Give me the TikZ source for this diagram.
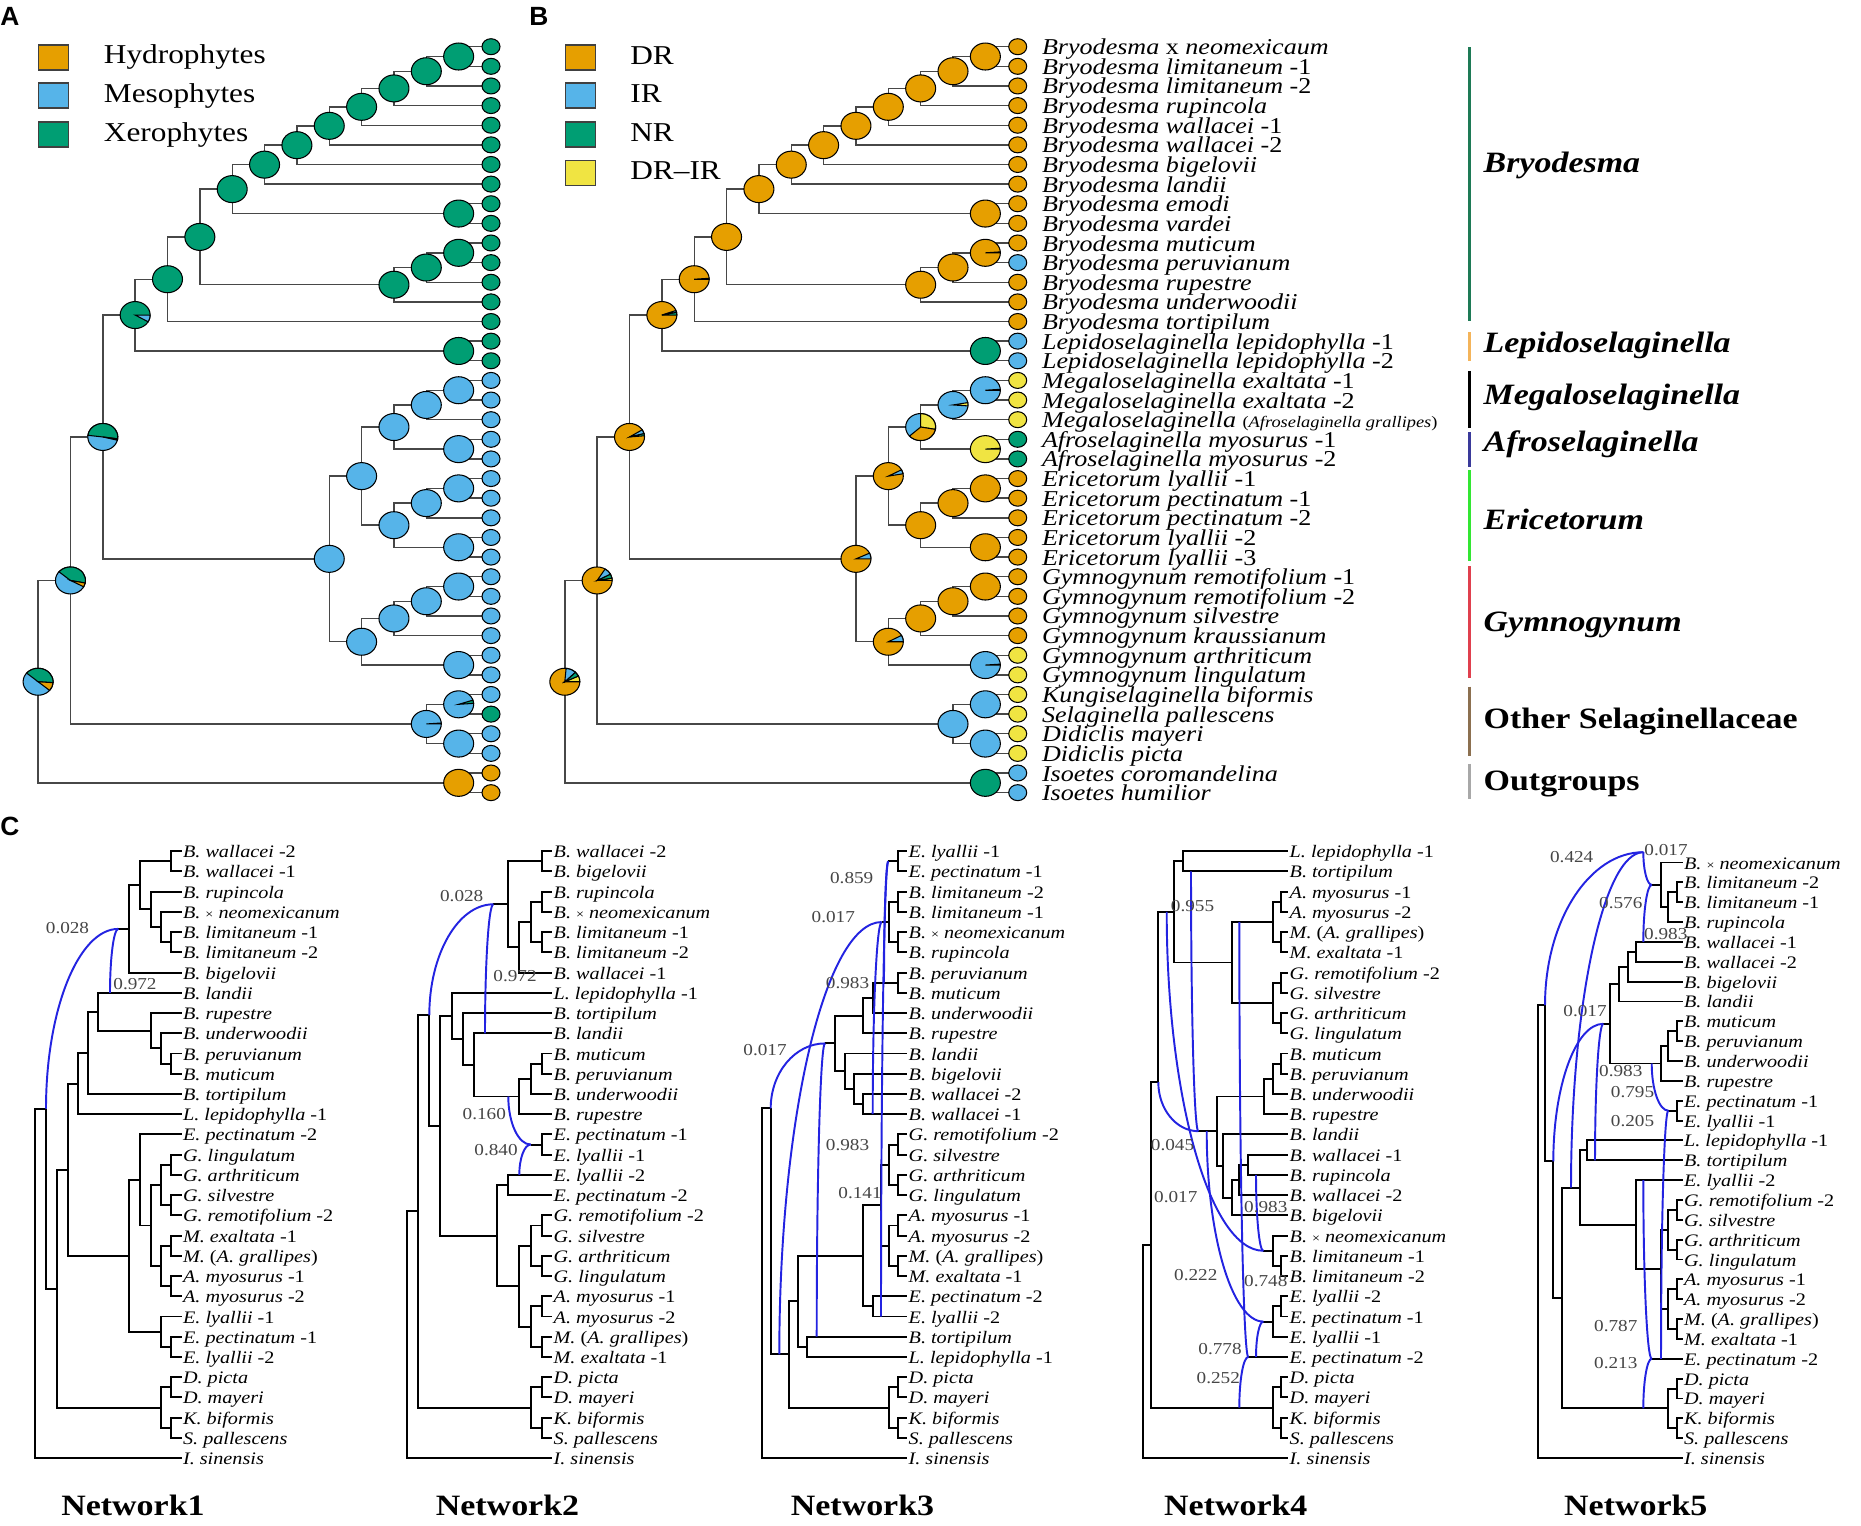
\documentclass[tikz,border=0pt]{standalone}
\usepackage{fontspec}
\setmainfont{Liberation Serif}[FakeStretch=1.15]
\newfontfamily\panelfont{Liberation Sans}
\usetikzlibrary{calc}
\usetikzlibrary{positioning}
\definecolor{statorange}{HTML}{E69F00}
\definecolor{statblue}{HTML}{56B4E9}
\definecolor{statgreen}{HTML}{009E73}
\definecolor{statyellow}{HTML}{F0E442}
\definecolor{hybblue}{RGB}{35,35,225}
\definecolor{numgray}{RGB}{70,70,70}
\definecolor{brygreen}{HTML}{1E7A56}
\definecolor{lepiorange}{HTML}{F4B45A}
\definecolor{afroblue}{HTML}{3A3A9A}
\definecolor{ericgreen}{HTML}{33E633}
\definecolor{gymnored}{HTML}{E0404E}
\definecolor{otherbrown}{HTML}{8C7050}
\definecolor{outgray}{HTML}{A8A8A8}

\tikzset{
  branch/.style={draw=black!72, line width=0.8pt},
  pieline/.style={draw=black, line width=0.6pt},
  netline/.style={draw=black, line width=1.1pt},
  hybline/.style={draw=hybblue, line width=1.1pt},
  taxon/.style={font=\fontsize{12.9}{13}\selectfont, inner sep=0pt, anchor=base west},
  nettip/.style={font=\fontsize{10}{11}\selectfont, inner sep=0pt, anchor=base west},
  netnum/.style={font=\fontsize{9.5}{10}\selectfont, text=numgray, inner sep=0pt},
  nettitle/.style={font=\fontsize{16.8}{18}\selectfont\bfseries, inner sep=0pt},
  legbox/.style={draw=black!75, line width=0.6pt, minimum width=0.6cm, minimum height=0.5cm, inner sep=0pt},
  legtext/.style={font=\fontsize{15.5}{16}\selectfont, inner sep=0pt, anchor=base west},
  cladename/.style={font=\fontsize{16.8}{18}\selectfont\bfseries, inner sep=0pt, anchor=base west},
  cladebar/.style={line width=1.5pt},
  panellabel/.style={font=\panelfont\fontsize{15}{16}\selectfont\bfseries, inner sep=0pt, anchor=base west},
}

% pie charts on the tree nodes
\newcommand\pienode[2]{\filldraw[fill=#2, pieline] (#1) ellipse[x radius=0.3cm, y radius=0.27cm];}
\newcommand\pieslice[4]{\filldraw[fill=#4, pieline] (#1) -- ++(#2:0.3cm and 0.27cm)
  arc[start angle=#2, end angle=#3, x radius=0.3cm, y radius=0.27cm] -- cycle;}
\newcommand\tipnode[2]{\filldraw[fill=#2, pieline] (#1) ellipse[x radius=0.18cm, y radius=0.16cm];}
% hybrid edge: quarter ellipse, first vertical then horizontal
\newcommand\hyb[2]{\draw[hybline] (#1) .. controls ($(#1)!0.55!(#1|-#2)$) and ($(#2)!0.55!(#1|-#2)$) .. (#2);}

% cladogram shared by panels A and B
\newcommand\drawclado{%
  \foreach \i in {0,...,38}
    \coordinate (t\i) at (\tipx,{46.7+19.63*\i});
  \foreach \n/\k/\r in {b1/1/0.5, b2/2/1.25, b3/3/2.125, b4/4/3.0625, b5/5/4.031, b6/6/5.016,
      b7/7/6.008, be/1/8.5, b8/8/7.254, bm1/1/10.5, bm2/2/11.25, bm3/3/12.125, b9/9/9.69,
      b10/10/11.845, lp/1/15.5, b11/11/13.67, m1/1/17.5, m2/2/18.25, af/1/20.5, ma/3/19.375,
      e1/1/22.5, e2/2/23.25, e3/1/25.5, e4/3/24.375, me/4/21.875, g1/1/27.5, g2/2/28.25,
      g3/3/29.125, g4/1/31.5, g5/4/30.3125, meg/5/26.09, n12/12/19.88, o1/1/33.5, o2/1/35.5,
      o3/2/34.5, n13/13/27.19, is/1/37.5, root/14/32.35}
    \coordinate (\n) at ({\tipx-32.35*\k},{46.7+19.63*\r});
  \foreach \pa/\ch in {b1/t0, b1/t1, b2/b1, b2/t2, b3/b2, b3/t3, b4/b3, b4/t4, b5/b4, b5/t5,
      b6/b5, b6/t6, b7/b6, b7/t7, be/t8, be/t9, b8/b7, b8/be, bm1/t10, bm1/t11, bm2/bm1,
      bm2/t12, bm3/bm2, bm3/t13, b9/b8, b9/bm3, b10/b9, b10/t14, lp/t15, lp/t16, b11/b10,
      b11/lp, m1/t17, m1/t18, m2/m1, m2/t19, af/t20, af/t21, ma/m2, ma/af, e1/t22, e1/t23,
      e2/e1, e2/t24, e3/t25, e3/t26, e4/e2, e4/e3, me/ma, me/e4, g1/t27, g1/t28, g2/g1,
      g2/t29, g3/g2, g3/t30, g4/t31, g4/t32, g5/g3, g5/g4, meg/me, meg/g5, n12/b11, n12/meg,
      o1/t33, o1/t34, o2/t35, o2/t36, o3/o1, o3/o2, n13/n12, n13/o3, is/t37, is/t38,
      root/n13, root/is}
    \draw[branch] (\pa) |- (\ch);
}

\begin{document}
\begin{tikzpicture}[x=0.02cm, y=-0.02cm]
\useasboundingbox (0,0) rectangle (1861,1525);
\fill[white] (0,0) rectangle (1861,1525);

%%%%%%%%%%%%%%%%%%%%%%%%%%%%%%%%%%%%%%%%%%%%%%%%%%%%%%%%%%%%%% Panel letters
\node[panellabel] (labA) at (0,25) {A};
\node[panellabel] (labB) at (529,25) {B};
\node[panellabel] (labC) at (0,835) {C};

%%%%%%%%%%%%%%%%%%%%%%%%%%%%%%%%%%%%%%%%%%%%%%%%%%%%%%%%%%%%%% A: habitat
\node[legbox, fill=statorange] (legA1) at (53.8,57.5) {};
\node[legbox, fill=statblue] (legA2) at (53.8,95.5) {};
\node[legbox, fill=statgreen] (legA3) at (53.8,134.5) {};
\node[legtext] (legA1t) at (103.6,63.5) {Hydrophytes};
\node[legtext] (legA2t) at (103.6,102) {Mesophytes};
\node[legtext] (legA3t) at (103.6,141) {Xerophytes};

\begin{scope}[name prefix=A-]
\def\tipx{491}
\drawclado
\foreach \n in {b1,b2,b3,b4,b5,b6,b7,be,b8,bm1,bm2,bm3,b9,b10,lp} {\pienode{\n}{statgreen}}
\foreach \n in {m1,m2,af,ma,e1,e2,e3,e4,me,g1,g2,g3,g4,g5,meg,o1,o2,o3} {\pienode{\n}{statblue}}
\pienode{is}{statorange}
\pienode{b11}{statgreen} \pieslice{b11}{-30}{0}{statblue}
\pienode{n12}{statblue} \pieslice{n12}{-8}{173}{statgreen} \pieslice{n12}{-14}{-8}{statorange}
\pienode{n13}{statblue} \pieslice{n13}{-11}{140}{statgreen} \pieslice{n13}{-28}{-11}{statorange}
\pienode{root}{statblue} \pieslice{root}{-4}{140}{statgreen} \pieslice{root}{-40}{-4}{statorange}
\pieslice{o1}{4}{18}{statgreen}
\pieslice{o3}{0}{4}{statgreen}
\foreach \i in {0,...,16,34} {\tipnode{t\i}{statgreen}}
\foreach \i in {17,...,33,35,36} {\tipnode{t\i}{statblue}}
\foreach \i in {37,38} {\tipnode{t\i}{statorange}}
\end{scope}

%%%%%%%%%%%%%%%%%%%%%%%%%%%%%%%%%%%%%%%%%%%%%%%%%%%%%%%%%%%%%% B: resurrection
\node[legbox, fill=statorange] (legB1) at (580.8,57.5) {};
\node[legbox, fill=statblue] (legB2) at (580.8,95.5) {};
\node[legbox, fill=statgreen] (legB3) at (580.8,134.5) {};
\node[legbox, fill=statyellow] (legB4) at (580.8,173) {};
\node[legtext] (legB1t) at (630,64) {DR};
\node[legtext] (legB2t) at (630,102.5) {IR};
\node[legtext] (legB3t) at (630,141) {NR};
\node[legtext] (legB4t) at (630,179.5) {DR--IR};

\begin{scope}[name prefix=B-]
\def\tipx{1017.7}
\drawclado
\foreach \n in {b1,b2,b3,b4,b5,b6,b7,be,b8,bm2,bm3,b9,e1,e2,e3,e4,g1,g2,g3} {\pienode{\n}{statorange}}
\foreach \n in {o1,o2,o3} {\pienode{\n}{statblue}}
\pienode{lp}{statgreen} \pienode{is}{statgreen}
\pienode{bm1}{statorange} \pieslice{bm1}{0}{4}{statblue}
\pienode{b10}{statorange} \pieslice{b10}{0}{4}{statgreen}
\pienode{b11}{statorange} \pieslice{b11}{0}{12}{statgreen} \pieslice{b11}{12}{20}{statblue}
\pienode{m1}{statblue} \pieslice{m1}{0}{4}{statyellow}
\pienode{m2}{statblue} \pieslice{m2}{-4}{10}{statyellow}
\pienode{af}{statyellow} \pieslice{af}{0}{4}{statgreen}
\pienode{ma}{statblue} \pieslice{ma}{-10}{90}{statyellow} \pieslice{ma}{222}{350}{statorange}
\pienode{me}{statorange} \pieslice{me}{10}{28}{statblue}
\pienode{g4}{statblue} \pieslice{g4}{0}{4}{statyellow}
\pienode{g5}{statorange} \pieslice{g5}{0}{28}{statblue}
\pienode{meg}{statorange} \pieslice{meg}{0}{25}{statblue}
\pienode{n12}{statorange} \pieslice{n12}{5}{15}{statgreen} \pieslice{n12}{15}{32}{statblue}
\pienode{n13}{statorange} \pieslice{n13}{0}{10}{statyellow} \pieslice{n13}{10}{28}{statgreen} \pieslice{n13}{28}{58}{statblue}
\pienode{root}{statorange} \pieslice{root}{0}{25}{statyellow} \pieslice{root}{25}{45}{statgreen} \pieslice{root}{45}{85}{statblue}
\foreach \i in {0,1,2,3,4,5,6,7,8,9,10,12,13,14,22,23,24,25,26,27,28,29,30} {\tipnode{t\i}{statorange}}
\foreach \i in {11,15,16,37,38} {\tipnode{t\i}{statblue}}
\foreach \i in {17,18,19,31,32,33,34,35,36} {\tipnode{t\i}{statyellow}}
\foreach \i in {20,21} {\tipnode{t\i}{statgreen}}
\foreach \s [count=\i from 0] in {
    {\textit{Bryodesma} x \textit{neomexicaum}}, {\textit{Bryodesma limitaneum} -1},
    {\textit{Bryodesma limitaneum} -2}, {\textit{Bryodesma rupincola}},
    {\textit{Bryodesma wallacei} -1}, {\textit{Bryodesma wallacei} -2},
    {\textit{Bryodesma bigelovii}}, {\textit{Bryodesma landii}}, {\textit{Bryodesma emodi}},
    {\textit{Bryodesma vardei}}, {\textit{Bryodesma muticum}}, {\textit{Bryodesma peruvianum}},
    {\textit{Bryodesma rupestre}}, {\textit{Bryodesma underwoodii}}, {\textit{Bryodesma tortipilum}},
    {\textit{Lepidoselaginella lepidophylla} -1}, {\textit{Lepidoselaginella lepidophylla} -2},
    {\textit{Megaloselaginella exaltata} -1}, {\textit{Megaloselaginella exaltata} -2},
    {\textit{Megaloselaginella} {\fontsize{9.1}{10}\selectfont(\textit{Afroselaginella grallipes})}},
    {\textit{Afroselaginella myosurus} -1}, {\textit{Afroselaginella myosurus} -2},
    {\textit{Ericetorum lyallii} -1}, {\textit{Ericetorum pectinatum} -1},
    {\textit{Ericetorum pectinatum} -2}, {\textit{Ericetorum lyallii} -2},
    {\textit{Ericetorum lyallii} -3}, {\textit{Gymnogynum remotifolium} -1},
    {\textit{Gymnogynum remotifolium} -2}, {\textit{Gymnogynum silvestre}},
    {\textit{Gymnogynum kraussianum}}, {\textit{Gymnogynum arthriticum}},
    {\textit{Gymnogynum lingulatum}}, {\textit{Kungiselaginella biformis}},
    {\textit{Selaginella pallescens}}, {\textit{Didiclis mayeri}}, {\textit{Didiclis picta}},
    {\textit{Isoetes coromandelina}}, {\textit{Isoetes humilior}}}
  {\node[taxon] (lb\i) at ($(t\i)+(24,8)$) {\s};}
\end{scope}

% clade bars
\draw[cladebar, brygreen] (1469.3,47.4) -- (1469.3,321);
\draw[cladebar, lepiorange] (1469.3,332) -- (1469.3,361);
\draw[cladebar, black] (1469.3,370.8) -- (1469.3,428);
\draw[cladebar, afroblue] (1469.3,432) -- (1469.3,466.8);
\draw[cladebar, ericgreen] (1469.3,470.3) -- (1469.3,561.3);
\draw[cladebar, gymnored] (1469.3,566.3) -- (1469.3,677.8);
\draw[cladebar, otherbrown] (1469.3,686.7) -- (1469.3,756.4);
\draw[cladebar, outgray] (1469.3,763.8) -- (1469.3,798.6);
\node[cladename] (cBry) at (1483.3,172) {\textit{Bryodesma}};
\node[cladename] (cLep) at (1483.3,352) {\textit{Lepidoselaginella}};
\node[cladename] (cMeg) at (1483.3,404.5) {\textit{Megaloselaginella}};
\node[cladename] (cAfr) at (1483.3,451) {\textit{Afroselaginella}};
\node[cladename] (cEri) at (1483.3,529) {\textit{Ericetorum}};
\node[cladename] (cGym) at (1483.3,631) {\textit{Gymnogynum}};
\node[cladename] (cOth) at (1483.3,728) {Other Selaginellaceae};
\node[cladename] (cOut) at (1483.3,790) {Outgroups};

%%%%%%%%%%%%%%%%%%%%%%%%%%%%%%%%%%%%%%%%%%%%%%%%%%%%%%%%%%%%%% C: Network1
\begin{scope}[name prefix=N1-]
\def\rowy{851.2}\def\rowh{20.23}\def\tipx{181.7}
\foreach \i in {0,...,30} \coordinate (t\i) at (\tipx,{\rowy+\rowh*\i});
\foreach \n/\x/\r in {a/171/0.5, b/171/4.5, c/161/3.75, d/151/2.875, e/140/1.6875,
    f/129.3/3.84, hy/118.3/3.84, h1/171/10.5, h2/161/9.75, h3/151/8.875, g/98.3/7.94,
    hp/110/7, i/87.7/9.97, j/77.7/11.49, gl/171/15.5, gs/171/17.5, gg/161/16.5,
    mm/171/19.5, aa/171/21.5, ma/161/20.5, gma/151/18.5, n/140/16.25, ee/171/24.5,
    ee2/161/23.75, o/129.3/20, k/67.7/15.75, dd/171/26.5, ks/171/28.5, ot/161/27.5,
    l/56.7/21.62, m/46/12.73, rt/35/21.36}
  \coordinate (\n) at (\x,{\rowy+\rowh*(\r)});
\foreach \pa/\ch in {a/t0, a/t1, b/t4, b/t5, c/t3, c/b, d/t2, d/c, e/a, e/d, f/e, f/t6,
    hy/f, h1/t10, h1/t11, h2/t9, h2/h1, h3/t8, h3/h2, g/t7, g/h3, i/g, i/t12, j/i, j/t13,
    gl/t15, gl/t16, gs/t17, gs/t18, gg/gl, gg/gs, mm/t19, mm/t20, aa/t21, aa/t22, ma/mm,
    ma/aa, gma/gg, gma/ma, n/t14, n/gma, ee/t24, ee/t25, ee2/t23, ee2/ee, o/n, o/ee2,
    k/j, k/o, dd/t26, dd/t27, ks/t28, ks/t29, ot/dd, ot/ks, l/k, l/ot, m/l, rt/m, rt/t30}
  \draw[netline] (\pa) |- (\ch);
\hyb{m}{hy}
\hyb{hp}{hy}
\foreach \s [count=\i from 0] in {{\textit{B. wallacei} -2}, {\textit{B. wallacei} -1},
    {\textit{B. rupincola}}, {\textit{B.} {\fontsize{7}{8}\selectfont×} \textit{neomexicanum}},
    {\textit{B. limitaneum} -1}, {\textit{B. limitaneum} -2}, {\textit{B. bigelovii}},
    {\textit{B. landii}}, {\textit{B. rupestre}}, {\textit{B. underwoodii}},
    {\textit{B. peruvianum}}, {\textit{B. muticum}}, {\textit{B. tortipilum}},
    {\textit{L. lepidophylla} -1}, {\textit{E. pectinatum} -2}, {\textit{G. lingulatum}},
    {\textit{G. arthriticum}}, {\textit{G. silvestre}}, {\textit{G. remotifolium} -2},
    {\textit{M. exaltata} -1}, {\textit{M.} (\textit{A. grallipes})}, {\textit{A. myosurus} -1},
    {\textit{A. myosurus} -2}, {\textit{E. lyallii} -1}, {\textit{E. pectinatum} -1},
    {\textit{E. lyallii} -2}, {\textit{D. picta}}, {\textit{D. mayeri}}, {\textit{K. biformis}},
    {\textit{S. pallescens}}, {\textit{I. sinensis}}}
  {\node[nettip] (l\i) at ($(t\i)+(1,6.5)$) {\s};}
\node[netnum] (w1) at (67.5,928) {0.028};
\node[netnum] (w2) at (135,984) {0.972};
\node[nettitle] (title) at (133,1505.5) {Network1};
\end{scope}

%%%%%%%%%%%%%%%%%%%%%%%%%%%%%%%%%%%%%%%%%%%%%%%%%%%%%%%%%%%%%% C: Network2
\begin{scope}[name prefix=N2-]
\def\rowy{851.2}\def\rowh{20.23}\def\tipx{552.3}
\foreach \i in {0,...,30} \coordinate (t\i) at (\tipx,{\rowy+\rowh*\i});
\foreach \n/\x/\r in {a/541.7/0.5, rn/541.7/2.5, rl/541.7/4.5, x422/530.7/3.5,
    x388/519.3/4.75, x355/508.3/2.625, hy/493.3/2.625, hp/485/9, mp/541.7/10.5,
    mu/530.7/11.25, mr/519.3/12.125, x253/474.3/10.56, x218/462.7/9.28, x185/451.7/8.14,
    ep/541.7/14.5, hy2/530.7/14.5, hq/508.3/12.125, hr/519.3/16, ee/508.3/16.5,
    gs/541.7/18.5, ga/541.7/20.5, gg/530.7/19.5, am/541.7/22.5, mx/541.7/24.5,
    ma/530.7/23.5, gma/519.3/21.5, egma/496.7/19, x150/440/13.57, x118/429.3/8.1,
    dd/541.7/26.5, ks/541.7/28.5, ot/530.7/27.5, x85/418.3/17.8, rt/406.7/23.9}
  \coordinate (\n) at (\x,{\rowy+\rowh*(\r)});
\foreach \pa/\ch in {a/t0, a/t1, rn/t2, rn/t3, rl/t4, rl/t5, x422/rn, x422/rl, x388/x422,
    x388/t6, x355/a, x355/x388, hy/x355, mp/t10, mp/t11, mu/mp, mu/t12, mr/mu, mr/t13,
    x253/t9, x253/mr, x218/t8, x218/x253, x185/t7, x185/x218, ep/t14, ep/t15, hy2/ep,
    ee/t16, ee/t17, gs/t18, gs/t19, ga/t20, ga/t21, gg/gs, gg/ga, am/t22, am/t23, mx/t24,
    mx/t25, ma/am, ma/mx, gma/gg, gma/ma, egma/ee, egma/gma, x150/x185, x150/egma,
    x118/x150, dd/t26, dd/t27, ks/t28, ks/t29, ot/dd, ot/ks, x85/x118, x85/ot, rt/x85, rt/t30}
  \draw[netline] (\pa) |- (\ch);
\hyb{x118}{hy}
\hyb{hp}{hy}
\hyb{hq}{hy2}
\hyb{hr}{hy2}
\foreach \s [count=\i from 0] in {{\textit{B. wallacei} -2}, {\textit{B. bigelovii}},
    {\textit{B. rupincola}}, {\textit{B.} {\fontsize{7}{8}\selectfont×} \textit{neomexicanum}},
    {\textit{B. limitaneum} -1}, {\textit{B. limitaneum} -2}, {\textit{B. wallacei} -1},
    {\textit{L. lepidophylla} -1}, {\textit{B. tortipilum}}, {\textit{B. landii}},
    {\textit{B. muticum}}, {\textit{B. peruvianum}}, {\textit{B. underwoodii}},
    {\textit{B. rupestre}}, {\textit{E. pectinatum} -1}, {\textit{E. lyallii} -1},
    {\textit{E. lyallii} -2}, {\textit{E. pectinatum} -2}, {\textit{G. remotifolium} -2},
    {\textit{G. silvestre}}, {\textit{G. arthriticum}}, {\textit{G. lingulatum}},
    {\textit{A. myosurus} -1}, {\textit{A. myosurus} -2}, {\textit{M.} (\textit{A. grallipes})},
    {\textit{M. exaltata} -1}, {\textit{D. picta}}, {\textit{D. mayeri}}, {\textit{K. biformis}},
    {\textit{S. pallescens}}, {\textit{I. sinensis}}}
  {\node[nettip] (l\i) at ($(t\i)+(1,6.5)$) {\s};}
\node[netnum] (w1) at (461.7,896.5) {0.028};
\node[netnum] (w2) at (515,975.7) {0.972};
\node[netnum] (w3) at (484.3,1113.8) {0.160};
\node[netnum] (w4) at (496,1150) {0.840};
\node[nettitle] (title) at (507.5,1505.5) {Network2};
\end{scope}

%%%%%%%%%%%%%%%%%%%%%%%%%%%%%%%%%%%%%%%%%%%%%%%%%%%%%%%%%%%%%% C: Network3
\begin{scope}[name prefix=N3-]
\def\rowy{851.2}\def\rowh{20.23}\def\tipx{907.3}
\foreach \i in {0,...,30} \coordinate (t\i) at (\tipx,{\rowy+\rowh*\i});
\foreach \n/\x/\r in {ea/898.3/0.5, h3/888.3/0.5, li/898.3/2.5, nr/898.3/4.5, ln/889.3/3.5,
    h2/881.7/3.5, pm/898.3/6.5, x428/872.7/7.25, x400/863.3/8.125, w/863.3/12.5,
    x372/854/11.75, x345/845/10.875, x315/835/9.5, h1/825/9.5, gr/898.3/14.5,
    ga/898.3/16.5, gg/889.3/15.5, am/898.3/18.5, mm/898.3/20.5, ma/889.3/19.5,
    gma/880.7/17.5, ee/872.7/22.5, egma/863.3/20, tl/807.3/24.5, x205/798.3/22.25,
    dd/898.3/26.5, ks/898.3/28.5, ot/889.3/27.5, x178/789.3/24.875, x148/779.3/24.875,
    x122/770.7/12.71, rt/761.7/21.36, p1/816.7/24, p2/872.7/13, p3/884/6.5, p4/881/23}
  \coordinate (\n) at (\x,{\rowy+\rowh*(\r)});
\foreach \pa/\ch in {ea/t0, ea/t1, h3/ea, li/t2, li/t3, nr/t4, nr/t5, ln/li, ln/nr, h2/ln,
    pm/t6, pm/t7, x428/pm, x428/t8, x400/x428, x400/t9, w/t12, w/t13, x372/t11, x372/w,
    x345/t10, x345/x372, x315/x400, x315/x345, h1/x315, gr/t14, gr/t15, ga/t16, ga/t17,
    gg/gr, gg/ga, am/t18, am/t19, mm/t20, mm/t21, ma/am, ma/mm, gma/gg, gma/ma, ee/t22,
    ee/t23, egma/gma, egma/ee, tl/t24, tl/t25, x205/egma, x205/tl, dd/t26, dd/t27,
    ks/t28, ks/t29, ot/dd, ot/ks, x178/x205, x178/ot, x122/x178, rt/x122, rt/t30}
  \draw[netline] (\pa) |- (\ch);
\hyb{x122}{h1}
\hyb{p1}{h1}
\hyb{x148}{h2}
\hyb{p2}{h2}
\hyb{p3}{h3}
\hyb{p4}{h3}
\foreach \s [count=\i from 0] in {{\textit{E. lyallii} -1}, {\textit{E. pectinatum} -1},
    {\textit{B. limitaneum} -2}, {\textit{B. limitaneum} -1},
    {\textit{B.} {\fontsize{7}{8}\selectfont×} \textit{neomexicanum}}, {\textit{B. rupincola}},
    {\textit{B. peruvianum}}, {\textit{B. muticum}}, {\textit{B. underwoodii}},
    {\textit{B. rupestre}}, {\textit{B. landii}}, {\textit{B. bigelovii}},
    {\textit{B. wallacei} -2}, {\textit{B. wallacei} -1}, {\textit{G. remotifolium} -2},
    {\textit{G. silvestre}}, {\textit{G. arthriticum}}, {\textit{G. lingulatum}},
    {\textit{A. myosurus} -1}, {\textit{A. myosurus} -2}, {\textit{M.} (\textit{A. grallipes})},
    {\textit{M. exaltata} -1}, {\textit{E. pectinatum} -2}, {\textit{E. lyallii} -2},
    {\textit{B. tortipilum}}, {\textit{L. lepidophylla} -1}, {\textit{D. picta}},
    {\textit{D. mayeri}}, {\textit{K. biformis}}, {\textit{S. pallescens}}, {\textit{I. sinensis}}}
  {\node[nettip] (l\i) at ($(t\i)+(1,6.5)$) {\s};}
\node[netnum] (w1) at (851.7,878.4) {0.859};
\node[netnum] (w2) at (833.3,916.9) {0.017};
\node[netnum] (w3) at (847.5,983.4) {0.983};
\node[netnum] (w4) at (765,1050.5) {0.017};
\node[netnum] (w5) at (847.5,1144.6) {0.983};
\node[netnum] (w6) at (860,1193) {0.141};
\node[nettitle] (title) at (862.5,1505.5) {Network3};
\end{scope}

%%%%%%%%%%%%%%%%%%%%%%%%%%%%%%%%%%%%%%%%%%%%%%%%%%%%%%%%%%%%%% C: Network4
\begin{scope}[name prefix=N4-]
\def\rowy{851.2}\def\rowh{20.23}\def\tipx{1288.3}
\foreach \i in {0,...,30} \coordinate (t\i) at (\tipx,{\rowy+\rowh*\i});
\foreach \n/\x/\r in {lt/1183.3/0.5, am/1281/2.5, mx/1281/4.5, ma/1272.7/3.5, gs/1281/6.5,
    ga/1281/8.5, gg/1272.7/7.5, gma/1231.7/5.5, x163/1174.3/3, mp/1281/10.5,
    mu/1272.7/11.25, mr/1264/12.125, w1/1248.3/15.5, w2/1239.3/16.25, w3/1231.7/17.125,
    x310/1223.3/15.56, x290/1216.7/13.84, h5/1198.3/13.84, lim/1281/20.5,
    neo/1272.7/19.75, h6/1263.3/19.75, e1/1281/22.5, e2/1272.7/23.25, h7/1263.3/23.25,
    h4/1248.3/25, dd/1281/26.5, ks/1281/28.5, ot/1272.7/27.5, x115/1158.3/11.42,
    x92/1150.7/19.46, rt/1142.7/24.73, q1/1191/1, q2/1166.7/3, q3/1256/16,
    q4/1206.7/13.84, q5/1256/25, q6/1239.3/3.5, q7/1239.3/27.5}
  \coordinate (\n) at (\x,{\rowy+\rowh*(\r)});
\foreach \pa/\ch in {lt/t0, lt/t1, am/t2, am/t3, mx/t4, mx/t5, ma/am, ma/mx, gs/t6, gs/t7,
    ga/t8, ga/t9, gg/gs, gg/ga, gma/ma, gma/gg, x163/lt, x163/gma, mp/t10, mp/t11, mu/mp,
    mu/t12, mr/mu, mr/t13, w1/t15, w1/t16, w2/w1, w2/t17, w3/w2, w3/t18, x310/t14,
    x310/w3, x290/mr, x290/x310, h5/x290, lim/t20, lim/t21, neo/t19, neo/lim, h6/neo,
    e1/t22, e1/t23, e2/e1, e2/t24, h7/e2, h4/t25, dd/t26, dd/t27, ks/t28, ks/t29, ot/dd,
    ot/ks, x115/x163, x92/x115, x92/ot, rt/x92, rt/t30}
  \draw[netline] (\pa) |- (\ch);
\hyb{q1}{h5}
\hyb{x115}{h5}
\hyb{q2}{h6}
\hyb{q3}{h6}
\hyb{q4}{h7}
\hyb{q5}{h7}
\hyb{q6}{h4}
\hyb{q7}{h4}
\foreach \s [count=\i from 0] in {{\textit{L. lepidophylla} -1}, {\textit{B. tortipilum}},
    {\textit{A. myosurus} -1}, {\textit{A. myosurus} -2}, {\textit{M.} (\textit{A. grallipes})},
    {\textit{M. exaltata} -1}, {\textit{G. remotifolium} -2}, {\textit{G. silvestre}},
    {\textit{G. arthriticum}}, {\textit{G. lingulatum}}, {\textit{B. muticum}},
    {\textit{B. peruvianum}}, {\textit{B. underwoodii}}, {\textit{B. rupestre}},
    {\textit{B. landii}}, {\textit{B. wallacei} -1}, {\textit{B. rupincola}},
    {\textit{B. wallacei} -2}, {\textit{B. bigelovii}},
    {\textit{B.} {\fontsize{7}{8}\selectfont×} \textit{neomexicanum}},
    {\textit{B. limitaneum} -1}, {\textit{B. limitaneum} -2}, {\textit{E. lyallii} -2},
    {\textit{E. pectinatum} -1}, {\textit{E. lyallii} -1}, {\textit{E. pectinatum} -2},
    {\textit{D. picta}}, {\textit{D. mayeri}}, {\textit{K. biformis}}, {\textit{S. pallescens}},
    {\textit{I. sinensis}}}
  {\node[nettip] (l\i) at ($(t\i)+(1,6.5)$) {\s};}
\node[netnum] (w1) at (1192.5,905.6) {0.955};
\node[netnum] (w2) at (1172.5,1144.6) {0.045};
\node[netnum] (w3) at (1175.8,1196.7) {0.017};
\node[netnum] (w4) at (1265.8,1206.7) {0.983};
\node[netnum] (w5) at (1195.8,1275.5) {0.222};
\node[netnum] (w6) at (1265.8,1281.4) {0.748};
\node[netnum] (w7) at (1220,1349.3) {0.778};
\node[netnum] (w8) at (1218.3,1377.8) {0.252};
\node[nettitle] (title) at (1235.8,1505.5) {Network4};
\end{scope}

%%%%%%%%%%%%%%%%%%%%%%%%%%%%%%%%%%%%%%%%%%%%%%%%%%%%%%%%%%%%%% C: Network5
\begin{scope}[name prefix=N5-]
\def\rowy{862.5}\def\rowh{19.85}\def\tipx{1682.7}
\foreach \i in {0,...,30} \coordinate (t\i) at (\tipx,{\rowy+\rowh*\i});
\foreach \n/\x/\r in {lim/1676.7/1.5, lr/1668.3/2.25, neo/1661/1.125, h8/1651.7/1.125,
    h9/1643.3/-0.52, w/1636/4.5, wb/1627.7/5.25, wl/1619.3/6.125, mp/1676.7/8.5,
    mu/1668.3/9.25, mr/1661/10.125, core/1610/8.125, h10/1603.3/8.125, ep/1676.7/12.5,
    h12/1668.3/12.5, lt/1586.7/14.5, g1/1676.7/17.5, g2/1676.7/19.5, gg/1668.3/18.5,
    am/1676.7/21.5, mx/1676.7/23.5, ma/1668.3/22.5, gma/1661/20.5, egma/1636/18.25,
    h11/1651.7/25, x240/1580/16.375, x213/1571/16.375, dd/1676.7/26.5, ks/1676.7/28.5,
    ot/1668.3/27.5, x187/1562.3/21.94, x160/1553.3/15.06, x135/1545/7.19, rt/1537.7/18.6,
    r1/1643.3/4, r2/1595/15, r3/1651.7/10.125, r4/1661/25, r5/1643.3/16, r6/1643.3/27.5}
  \coordinate (\n) at (\x,{\rowy+\rowh*(\r)});
\foreach \pa/\ch in {lim/t1, lim/t2, lr/lim, lr/t3, neo/t0, neo/lr, h8/neo, w/t4, w/t5,
    wb/w, wb/t6, wl/wb, wl/t7, mp/t8, mp/t9, mu/mp, mu/t10, mr/mu, mr/t11, core/wl,
    core/mr, h10/core, ep/t12, ep/t13, h12/ep, lt/t14, lt/t15, g1/t17, g1/t18, g2/t19,
    g2/t20, gg/g1, gg/g2, am/t21, am/t22, mx/t23, mx/t24, ma/am, ma/mx, gma/gg, gma/ma,
    egma/t16, egma/gma, h11/t25, x240/lt, x240/egma, x213/x240, dd/t26, dd/t27, ks/t28,
    ks/t29, ot/dd, ot/ks, x187/x213, x187/ot, x160/x187, x135/x160, rt/x135, rt/t30}
  \draw[netline] (\pa) |- (\ch);
\hyb{x135}{h9}
\hyb{x213}{h9}
\hyb{h9}{h8}
\hyb{r1}{h8}
\hyb{x160}{h10}
\hyb{r2}{h10}
\hyb{r3}{h12}
\hyb{r4}{h12}
\hyb{r5}{h11}
\hyb{r6}{h11}
\foreach \s [count=\i from 0] in {{\textit{B.} {\fontsize{7}{8}\selectfont×} \textit{neomexicanum}},
    {\textit{B. limitaneum} -2}, {\textit{B. limitaneum} -1}, {\textit{B. rupincola}},
    {\textit{B. wallacei} -1}, {\textit{B. wallacei} -2}, {\textit{B. bigelovii}},
    {\textit{B. landii}}, {\textit{B. muticum}}, {\textit{B. peruvianum}},
    {\textit{B. underwoodii}}, {\textit{B. rupestre}}, {\textit{E. pectinatum} -1},
    {\textit{E. lyallii} -1}, {\textit{L. lepidophylla} -1}, {\textit{B. tortipilum}},
    {\textit{E. lyallii} -2}, {\textit{G. remotifolium} -2}, {\textit{G. silvestre}},
    {\textit{G. arthriticum}}, {\textit{G. lingulatum}}, {\textit{A. myosurus} -1},
    {\textit{A. myosurus} -2}, {\textit{M.} (\textit{A. grallipes})}, {\textit{M. exaltata} -1},
    {\textit{E. pectinatum} -2}, {\textit{D. picta}}, {\textit{D. mayeri}}, {\textit{K. biformis}},
    {\textit{S. pallescens}}, {\textit{I. sinensis}}}
  {\node[nettip] (l\i) at ($(t\i)+(1,6.5)$) {\s};}
\node[netnum] (w1) at (1571.7,856.7) {0.424};
\node[netnum] (w2) at (1666,850.5) {0.017};
\node[netnum] (w3) at (1620.8,903.3) {0.576};
\node[netnum] (w4) at (1665.8,933.6) {0.983};
\node[netnum] (w5) at (1585,1010.6) {0.017};
\node[netnum] (w6) at (1620.8,1070.8) {0.983};
\node[netnum] (w7) at (1632.5,1092.1) {0.795};
\node[netnum] (w8) at (1632.5,1121.5) {0.205};
\node[netnum] (w9) at (1615.8,1325.8) {0.787};
\node[netnum] (w10) at (1615.8,1362.9) {0.213};
\node[nettitle] (title) at (1635.8,1505.5) {Network5};
\end{scope}

\end{tikzpicture}
\end{document}
